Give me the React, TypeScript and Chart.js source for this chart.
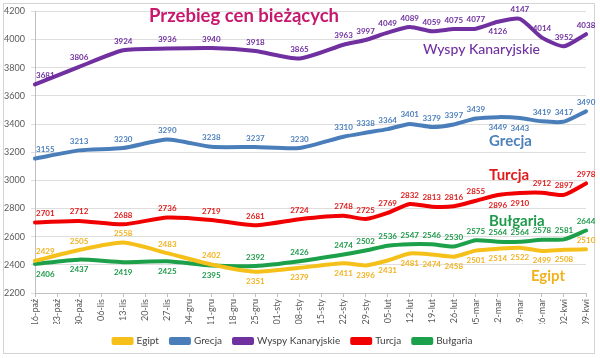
import { useEffect, useRef } from 'react';
import { Chart, registerables } from 'chart.js';
Chart.register(...registerables);

const categories = ['16-paź','23-paź','30-paź','06-lis','13-lis','20-lis','27-lis','04-gru','11-gru','18-gru','25-gru','01-sty','08-sty','15-sty','22-sty','29-sty','05-lut','12-lut','19-lut','26-lut','05-mar','12-mar','19-mar','26-mar','02-kwi','09-kwi'];

const egipt = [2429,null,2505,null,2558,null,2483,null,2402,null,2351,null,2379,null,2411,2396,2431,2481,2474,2458,2501,2514,2522,2499,2508,2510];
const grecja = [3155,null,3213,null,3230,null,3290,null,3238,null,3237,null,3230,null,3310,3338,3364,3401,3379,3397,3439,3449,3443,3419,3417,3490];
const wyspy = [3681,null,3806,null,3924,null,3936,null,3940,null,3918,null,3865,null,3963,3997,4049,4089,4059,4075,4077,4126,4147,4014,3952,4038];
const turcja = [2701,null,2712,null,2688,null,2736,null,2719,null,2681,null,2724,null,2748,2725,2769,2832,2813,2816,2855,2896,2910,2912,2897,2978];
const bulgaria = [2406,null,2437,null,2419,null,2425,null,2395,null,2392,null,2426,null,2474,2502,2536,2547,2546,2530,2575,2564,2564,2578,2581,2644];

const seriesNames = ['Egipt','Grecja','Wyspy Kanaryjskie','Turcja','Bułgaria'];
const seriesValues = [egipt, grecja, wyspy, turcja, bulgaria];
const lineColors = ['#F5C01A','#4A7EBB','#7030A0','#F00000','#1DA04A'];
const labelColors = ['#F2B21E','#4F81BD','#7030A0','#E01B1B','#1E9A4A'];
// indices of points whose value label sits below the line
const belowIdx = [
  [10,12,14,15,16,17,18,19,20,21,22,23,24],
  [21,22],
  [21],
  [21,22],
  [0,2,4,6,8],
];

const yMin = 2200;
const yMax = 4200;
const yStep = 200;

const title = 'Przebieg cen bieżących';

const seriesTags = [
  { text: 'Wyspy Kanaryjskie', x: 17.6, y: 3930, color: '#7030A0', font: '500 14px Lato' },
  { text: 'Grecja', x: 20.6, y: 3275, color: '#4F81BD', font: 'bold 15px Lato' },
  { text: 'Turcja', x: 20.6, y: 3040, color: '#E01B1B', font: 'bold 15px Lato' },
  { text: 'Bułgaria', x: 20.6, y: 2712, color: '#1E9A4A', font: 'bold 15px Lato' },
  { text: 'Egipt', x: 22.5, y: 2321, color: '#F2B21E', font: 'bold 15px Lato' },
];

const overlay = {
  id: 'overlay',
  beforeDraw(chart: any) {
    const ctx = chart.ctx;
    ctx.save();
    ctx.fillStyle = '#ffffff';
    ctx.fillRect(0, 0, chart.width, chart.height);
    ctx.strokeStyle = '#d4d4d4';
    ctx.lineWidth = 1;
    ctx.strokeRect(3.5, 3.5, chart.width - 9, chart.height - 8);
    ctx.restore();
  },
  afterDatasetsDraw(chart: any) {
    const ctx = chart.ctx;
    const area = chart.chartArea;
    ctx.save();
    ctx.font = 'bold 8px Lato';
    ctx.textBaseline = 'middle';
    ctx.textAlign = 'center';
    chart.data.datasets.forEach((ds: any, di: number) => {
      const meta = chart.getDatasetMeta(di);
      meta.data.forEach((pt: any, i: number) => {
        const v = ds.data[i];
        if (v == null) return;
        const txt = String(v);
        const w = ctx.measureText(txt).width;
        let x = pt.x;
        if (x - w / 2 < area.left + 1) x = area.left + 1 + w / 2;
        const y = belowIdx[di].includes(i) ? pt.y + 10 : pt.y - 9;
        ctx.fillStyle = labelColors[di];
        ctx.fillText(txt, x, y);
      });
    });
    const xs = chart.scales.x;
    const ys = chart.scales.y;
    ctx.textAlign = 'left';
    seriesTags.forEach((t) => {
      ctx.font = t.font;
      ctx.fillStyle = t.color;
      ctx.fillText(t.text, xs.getPixelForValue(t.x), ys.getPixelForValue(t.y));
    });
    let size = 20;
    ctx.font = `bold ${size}px Lato`;
    const tw = ctx.measureText(title).width;
    size = Math.round(size * 190 / tw * 10) / 10;
    ctx.font = `bold ${size}px Lato`;
    ctx.textAlign = 'center';
    ctx.fillStyle = '#C8186E';
    ctx.fillText(title, 244, 16);
    ctx.restore();
  },
};

export default function App() {
  const ref = useRef<HTMLCanvasElement>(null);
  useEffect(() => {
    document.body.style.margin = '0';
    const chart = new Chart(ref.current!, {
      type: 'line',
      data: {
        labels: categories,
        datasets: seriesNames.map((name, i) => ({
          label: name,
          data: seriesValues[i],
          borderColor: lineColors[i],
          backgroundColor: lineColors[i],
          borderWidth: 4,
          pointRadius: 0,
          tension: 0.2,
          spanGaps: true,
          borderCapStyle: 'round',
          borderJoinStyle: 'round',
        })),
      },
      options: {
        responsive: false,
        animation: false,
        layout: { padding: { left: 0, right: 14, top: 10, bottom: 2 } },
        plugins: {
          legend: {
            position: 'bottom',
            labels: {
              boxWidth: 18,
              boxHeight: 4,
              padding: 12,
              color: '#404040',
              font: { family: 'Lato', size: 10 },
            },
          },
          tooltip: { enabled: false },
        },
        scales: {
          x: {
            offset: false,
            grid: { display: true, drawOnChartArea: false, tickLength: 4, color: '#bfbfbf' },
            border: { color: '#bfbfbf' },
            ticks: {
              autoSkip: false,
              minRotation: 90,
              maxRotation: 90,
              padding: 2,
              color: '#595959',
              font: { family: 'Lato', size: 9 },
            },
            afterFit: (s: any) => { s.height = 31; },
          },
          y: {
            min: yMin,
            max: yMax,
            ticks: {
              stepSize: yStep,
              padding: 6,
              color: '#595959',
              font: { family: 'Lato', size: 9 },
              callback: (v: any) => String(v),
            },
            grid: { color: '#dedede', tickLength: 4 },
            border: { color: '#bfbfbf' },
            afterFit: (s: any) => { s.width = 35; },
          },
        },
      },
      plugins: [overlay],
    } as any);
    return () => chart.destroy();
  }, []);
  return <canvas ref={ref} width={600} height={358} />;
}
